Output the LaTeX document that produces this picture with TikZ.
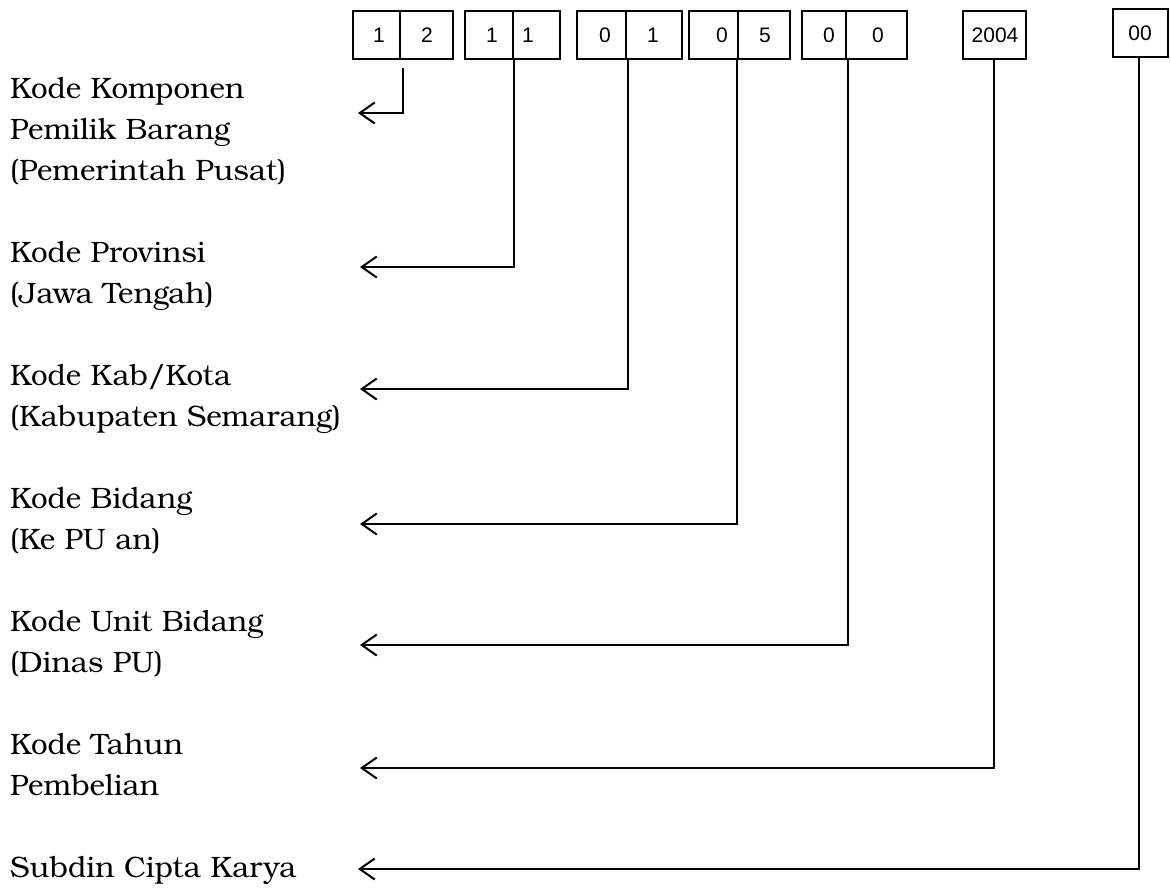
\documentclass[tikz,border=0pt]{standalone}
\usepackage{fontspec}
\setmainfont{TeX Gyre Bonum}
\newfontfamily\digitfont{Liberation Sans}
\usetikzlibrary{arrows.meta}
\tikzset{
  lbl/.style={anchor=base west, inner sep=0pt, font=\fontsize{29.5}{36}\selectfont},
  cell/.style={draw, line width=1.5pt, minimum height=48pt, inner sep=0pt},
  digit/.style={font=\digitfont\fontsize{21}{25}\selectfont, inner sep=0pt},
  conn/.style={line width=2pt, -{Straight Barb[length=15pt,width=21pt]}},
}
\begin{document}
\begin{tikzpicture}[x=1pt,y=-1pt]
\useasboundingbox[fill=white] (0,0) rectangle (1171,892);

% code boxes
\node[cell, minimum width=47pt] (A1) at (376.5,35) {};
\node[cell, minimum width=53pt] (A2) at (426.5,35) {};
\node[cell, minimum width=48pt] (B1) at (489,35) {};
\node[cell, minimum width=47pt] (B2) at (536.5,35) {};
\node[cell, minimum width=49pt] (C1) at (601.5,35) {};
\node[cell, minimum width=56pt] (C2) at (654,35) {};
\node[cell, minimum width=49pt] (D1) at (713.5,35) {};
\node[cell, minimum width=52pt] (D2) at (764,35) {};
\node[cell, minimum width=44pt] (E1) at (824,35) {};
\node[cell, minimum width=61pt] (E2) at (876.5,35) {};
\node[cell, minimum width=63pt] (F) at (994.5,35) {};
\node[cell, minimum width=55pt] (G) at (1140.5,33) {};

% digits in the boxes
\node[digit] (dA1) at (379,35) {1};
\node[digit] (dA2) at (427,35) {2};
\node[digit] (dB1) at (492,35) {1};
\node[digit] (dB2) at (528,35) {1};
\node[digit] (dC1) at (605,35) {0};
\node[digit] (dC2) at (653,35) {1};
\node[digit] (dD1) at (722,35) {0};
\node[digit] (dD2) at (765,35) {5};
\node[digit] (dE1) at (829,35) {0};
\node[digit] (dE2) at (878,35) {0};
\node[digit] (dF) at (995,35) {2004};
\node[digit] (dG) at (1140,33) {00};

% descriptions
\node[lbl] (lA1) at (10,98) {Kode Komponen};
\node[lbl] (lA2) at (10,139) {Pemilik Barang};
\node[lbl] (lA3) at (10,180) {(Pemerintah Pusat)};
\node[lbl] (lB1) at (10,262) {Kode Provinsi};
\node[lbl] (lB2) at (10,303) {(Jawa Tengah)};
\node[lbl] (lC1) at (10,385) {Kode Kab/Kota};
\node[lbl] (lC2) at (10,426) {(Kabupaten Semarang)};
\node[lbl] (lD1) at (10,508) {Kode Bidang};
\node[lbl] (lD2) at (10,549) {(Ke PU an)};
\node[lbl] (lE1) at (10,631) {Kode Unit Bidang};
\node[lbl] (lE2) at (10,672) {(Dinas PU)};
\node[lbl] (lF1) at (10,754) {Kode Tahun};
\node[lbl] (lF2) at (10,795) {Pembelian};
\node[lbl] (lG1) at (10,877) {Subdin Cipta Karya};

% arrow tips
\coordinate (tA) at (358,113);
\coordinate (tB) at (360,267);
\coordinate (tC) at (360,389);
\coordinate (tD) at (360,524);
\coordinate (tE) at (360,645);
\coordinate (tF) at (360,768);
\coordinate (tG) at (358,869);

% connectors
\draw[conn] ([xshift=2pt,yshift=-8pt]A1.south east) |- (tA);
\draw[conn] (B1.south east) |- (tB);
\draw[conn] ([xshift=1pt]C1.south east) |- (tC);
\draw[conn] ([xshift=-2pt]D1.south east) |- (tD);
\draw[conn] ([xshift=1pt]E1.south east) |- (tE);
\draw[conn] ([xshift=-1pt]F.south) |- (tF);
\draw[conn] ([xshift=-2pt]G.south) |- (tG);
\end{tikzpicture}
\end{document}
